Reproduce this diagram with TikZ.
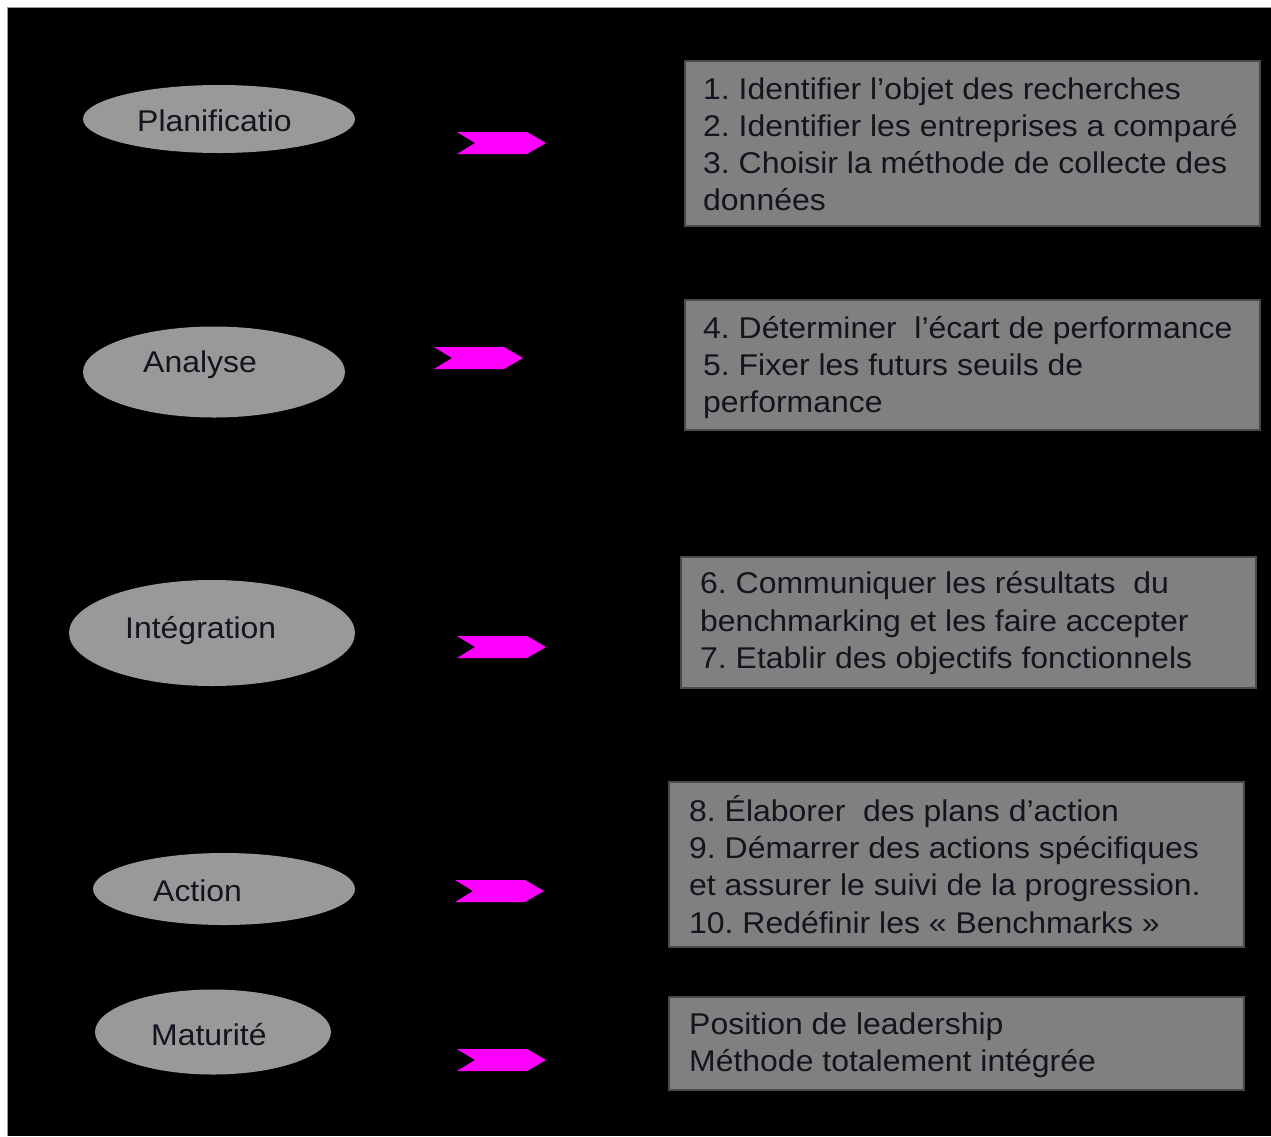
\documentclass[tikz,border=0pt]{standalone}
\usepackage{fontspec}
\setmainfont[FakeStretch=1.065]{Liberation Sans}
\usetikzlibrary{shapes.geometric}
\definecolor{ellgray}{HTML}{999999}
\definecolor{boxgray}{HTML}{808080}
\definecolor{boxline}{HTML}{4A4A4A}
\definecolor{txt}{HTML}{14141E}
\definecolor{mag}{HTML}{FF00FF}
\begin{document}
\frenchspacing
\begin{tikzpicture}[x=1pt,y=-1pt,
  phase/.style={ellipse, fill=ellgray, inner sep=0pt},
  labeltext/.style={text=txt, font=\fontsize{30}{37}\selectfont, inner sep=0pt, anchor=west},
  stepbox/.style={rectangle, fill=boxgray, draw=boxline, line width=1.5pt, anchor=north west, inner sep=0pt},
  boxtext/.style={text=txt, font=\fontsize{30}{37.3}\selectfont, inner sep=0pt, anchor=west, align=left},
  chev/.style={fill=mag}]
\useasboundingbox (0,0) rectangle (1271,1136);
\fill[white] (0,0) rectangle (1271,1136);
\fill[black] (8,8) rectangle (1271,1136);
\draw[black!40, line width=1pt] (7.5,1136) -- (7.5,7.5) -- (1271,7.5);

% phases
\node[phase, minimum width=272, minimum height=68] (e1) at (219,119) {};
\node[labeltext] (t1) at (137,121) {Planificatio};
\node[phase, minimum width=262, minimum height=91] (e2) at (214,372) {};
\node[labeltext] (t2) at (143,365) {Analyse};
\node[phase, minimum width=286, minimum height=106] (e3) at (212,633) {};
\node[labeltext] (t3) at (125,631) {Intégration};
\node[phase, minimum width=262, minimum height=72] (e4) at (224,889) {};
\node[labeltext] (t4) at (153,891) {Action};
\node[phase, minimum width=236, minimum height=85] (e5) at (213,1032) {};
\node[labeltext] (t5) at (151,1035) {Maturité};

% chevrons
\foreach \x/\y in {457/143, 434/358, 457/647, 455/891, 457/1060}{
  \fill[chev] (\x,\y-11) -- (\x+70,\y-11) -- (\x+89,\y) -- (\x+70,\y+11) -- (\x,\y+11) -- (\x+18,\y) -- cycle;
}

% boxes
\node[stepbox, minimum width=575, minimum height=165] (b1) at (684,60) {};
\node[boxtext] (bt1) at ([xshift=19pt,yshift=-1pt]b1.west) {1. Identifier l’objet des recherches\\2. Identifier les entreprises a comparé\\3. Choisir la méthode de collecte des\\données};
\node[stepbox, minimum width=575, minimum height=130] (b2) at (684,299) {};
\node[boxtext] (bt2) at ([xshift=19pt,yshift=-3pt]b2.west) {4. Déterminer~ l’écart de performance\\5. Fixer les futurs seuils de\\performance};
\node[stepbox, minimum width=575, minimum height=131] (b3) at (680,556) {};
\node[boxtext] (bt3) at ([xshift=20pt,yshift=-1pt]b3.west) {6. Communiquer les résultats~ du\\benchmarking et les faire accepter\\7. Etablir des objectifs fonctionnels};
\node[stepbox, minimum width=575, minimum height=165] (b4) at (668,781) {};
\node[boxtext] (bt4) at ([xshift=21pt]b4.west) {8. Élaborer~ des plans d’action\\9. Démarrer des actions spécifiques\\et assurer le suivi de la progression.\\10. Redéfinir les « Benchmarks »};
\node[stepbox, minimum width=575, minimum height=93] (b5) at (668,996) {};
\node[boxtext] (bt5) at ([xshift=21pt,yshift=-2pt]b5.west) {Position de leadership\\Méthode totalement intégrée};
\end{tikzpicture}
\end{document}
